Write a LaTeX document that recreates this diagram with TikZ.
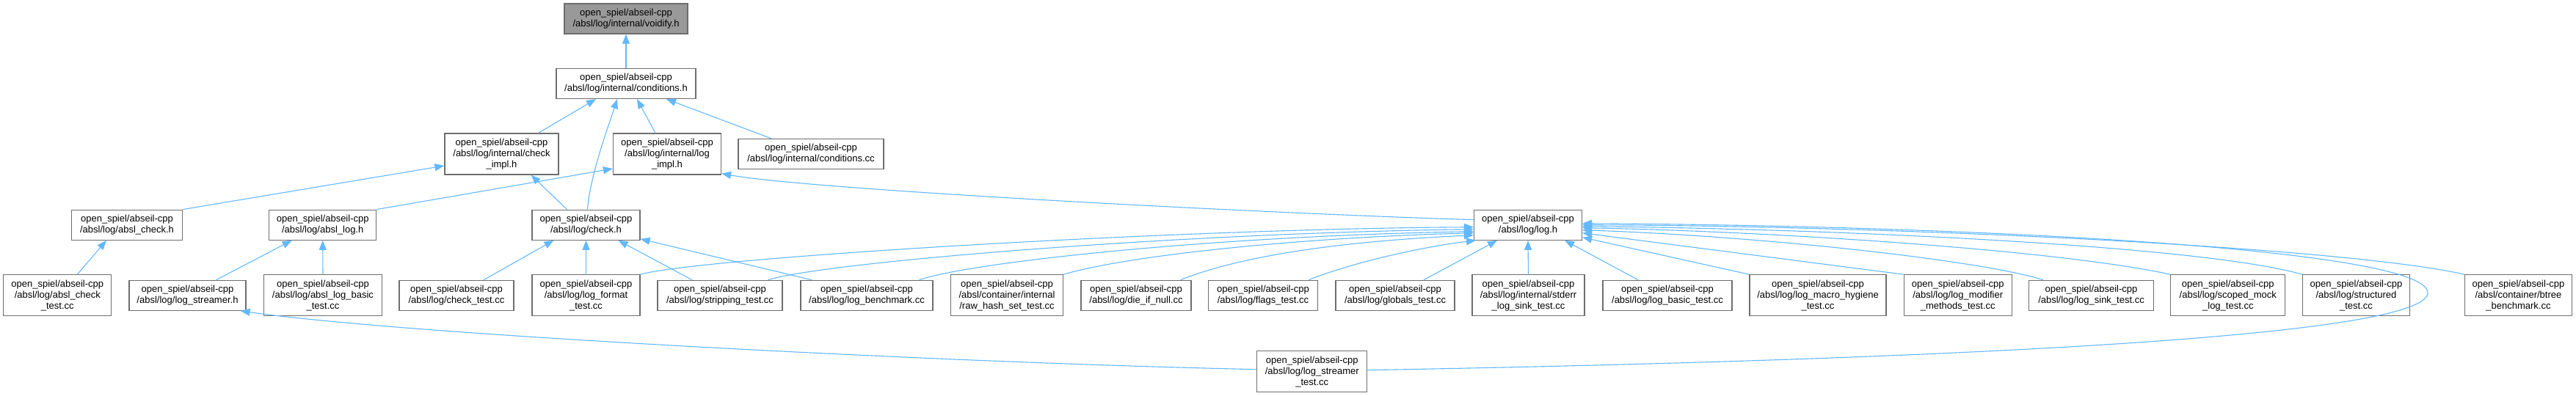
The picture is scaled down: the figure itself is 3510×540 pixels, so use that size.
\documentclass[tikz,border=0pt]{standalone}
\usepackage{fontspec}
\setmainfont{Liberation Sans}
\usetikzlibrary{arrows.meta}
\definecolor{edgeblue}{HTML}{63B8FF}
\definecolor{boxline}{HTML}{6E6E6E}
\definecolor{rootfill}{HTML}{999999}
\begin{document}
\begin{tikzpicture}[x=1pt,y=-1pt,
  box/.style={draw=boxline, line width=1.2pt, fill=white, align=center,
    inner xsep=3pt, inner ysep=0pt, font=\fontsize{13}{15}\selectfont,
    minimum height=41pt},
  box3/.style={box, minimum height=56pt},
  dep/.style={draw=edgeblue, line width=1.1pt, -{Triangle[length=13pt,width=10pt]}}]
\useasboundingbox (0,0) rectangle (3510,540);
% row 0-2
\node[box, fill=rootfill, minimum width=168pt] (voidify) at (853,25.5) {open\_spiel/abseil-cpp\\/absl/log/internal/voidify.h};
\node[box, minimum width=190pt] (condh) at (853,114) {open\_spiel/abseil-cpp\\/absl/log/internal/conditions.h};
\node[box3, minimum width=155pt] (cimpl) at (683.5,210) {open\_spiel/abseil-cpp\\/absl/log/internal/check\\\_impl.h};
\node[box3, minimum width=147pt] (limpl) at (909,210) {open\_spiel/abseil-cpp\\/absl/log/internal/log\\\_impl.h};
\node[box, minimum width=198pt] (condcc) at (1105,210) {open\_spiel/abseil-cpp\\/absl/log/internal/conditions.cc};
% row 3
\node[box, minimum width=151pt] (acheck) at (173,306.7) {open\_spiel/abseil-cpp\\/absl/log/absl\_check.h};
\node[box, minimum width=146pt] (alog) at (439.7,306.7) {open\_spiel/abseil-cpp\\/absl/log/absl\_log.h};
\node[box, minimum width=147pt] (checkh) at (798.5,306.7) {open\_spiel/abseil-cpp\\/absl/log/check.h};
\node[box, minimum width=147pt] (logh) at (2082,306.7) {open\_spiel/abseil-cpp\\/absl/log/log.h};
% row 4
\node[box3, minimum width=147pt] (acheckt) at (78.3,402.8) {open\_spiel/abseil-cpp\\/absl/log/absl\_check\\\_test.cc};
\node[box, minimum width=159pt] (lsh) at (255.5,402.8) {open\_spiel/abseil-cpp\\/absl/log/log\_streamer.h};
\node[box3, minimum width=161pt] (alogbt) at (440,402.8) {open\_spiel/abseil-cpp\\/absl/log/absl\_log\_basic\\\_test.cc};
\node[box, minimum width=156pt] (checkt) at (622,402.8) {open\_spiel/abseil-cpp\\/absl/log/check\_test.cc};
\node[box3, minimum width=147pt] (lfmt) at (798.5,402.8) {open\_spiel/abseil-cpp\\/absl/log/log\_format\\\_test.cc};
\node[box, minimum width=170pt] (strip) at (981,402.8) {open\_spiel/abseil-cpp\\/absl/log/stripping\_test.cc};
\node[box, minimum width=180pt] (bench) at (1181,402.8) {open\_spiel/abseil-cpp\\/absl/log/log\_benchmark.cc};
\node[box3, minimum width=153pt] (rawhash) at (1372,402.8) {open\_spiel/abseil-cpp\\/absl/container/internal\\/raw\_hash\_set\_test.cc};
\node[box, minimum width=150pt] (die) at (1548,402.8) {open\_spiel/abseil-cpp\\/absl/log/die\_if\_null.cc};
\node[box, minimum width=149pt] (flags) at (1721,402.8) {open\_spiel/abseil-cpp\\/absl/log/flags\_test.cc};
\node[box, minimum width=162pt] (globals) at (1901,402.8) {open\_spiel/abseil-cpp\\/absl/log/globals\_test.cc};
\node[box3, minimum width=153pt] (stderr) at (2082.5,402.8) {open\_spiel/abseil-cpp\\/absl/log/internal/stderr\\\_log\_sink\_test.cc};
\node[box, minimum width=176pt] (logbasic) at (2272,402.8) {open\_spiel/abseil-cpp\\/absl/log/log\_basic\_test.cc};
\node[box3, minimum width=186pt] (hygiene) at (2477,402.8) {open\_spiel/abseil-cpp\\/absl/log/log\_macro\_hygiene\\\_test.cc};
\node[box3, minimum width=147pt] (modifier) at (2667.7,402.8) {open\_spiel/abseil-cpp\\/absl/log/log\_modifier\\\_methods\_test.cc};
\node[box, minimum width=170pt] (sink) at (2849.5,402.8) {open\_spiel/abseil-cpp\\/absl/log/log\_sink\_test.cc};
\node[box3, minimum width=156pt] (scoped) at (3035.8,402.8) {open\_spiel/abseil-cpp\\/absl/log/scoped\_mock\\\_log\_test.cc};
\node[box3, minimum width=146pt] (structured) at (3210.5,402.8) {open\_spiel/abseil-cpp\\/absl/log/structured\\\_test.cc};
\node[box3, minimum width=146pt] (btree) at (3431.4,402.8) {open\_spiel/abseil-cpp\\/absl/container/btree\\\_benchmark.cc};
% row 5
\node[box3, minimum width=150pt] (lst) at (1787.7,506.7) {open\_spiel/abseil-cpp\\/absl/log/log\_streamer\\\_test.cc};
\coordinate (bend) at (3308,400);
% edges
\draw[dep] (condh.north) -- (voidify.south);
\draw[dep] ([xshift=50pt]cimpl.north) -- ([xshift=-41pt]condh.south);
\draw[dep] ([xshift=2pt]checkh.north) .. controls (804,240) and (828,175) .. ([xshift=-12pt]condh.south);
\draw[dep] ([xshift=-16pt]limpl.north) -- ([xshift=15pt]condh.south);
\draw[dep] ([xshift=-54pt]condcc.north) -- ([xshift=55pt]condh.south);
\draw[dep] (acheck.north east) -- ([yshift=-16pt]cimpl.west);
\draw[dep] ([xshift=-26pt]checkh.north) -- ([xshift=40pt]cimpl.south);
\draw[dep] (alog.north east) -- ([yshift=-20pt]limpl.west);
\draw[dep] ([yshift=7pt]logh.west) .. controls (1700,290) and (1100,258) .. ([yshift=2pt]limpl.south east);
\draw[dep] ([xshift=27pt]acheckt.north) -- ([xshift=-28pt]acheck.south);
\draw[dep] ([xshift=39pt]lsh.north) -- ([xshift=-42pt]alog.south);
\draw[dep] (alogbt.north) -- (alog.south);
\draw[dep] ([yshift=3pt]lst.west) .. controls (1300,495) and (560,457) .. ([xshift=-8pt]lsh.south east);
\draw[dep] ([xshift=37pt]checkt.north) -- ([xshift=-44pt]checkh.south);
\draw[dep] (lfmt.north) -- (checkh.south);
\draw[dep] ([xshift=-38pt]strip.north) -- ([xshift=44pt]checkh.south);
\draw[dep] ([xshift=-75pt]bench.north) -- ([yshift=2pt]checkh.south east);
\draw[dep] (lfmt.north east) .. controls (950,352) and (1600,312) .. ([yshift=-3pt]logh.west);
\draw[dep] ([xshift=-20pt]strip.north east) .. controls (1120,358) and (1600,318) .. ([yshift=-6pt]logh.west);
\draw[dep] ([xshift=-19pt]bench.north east) .. controls (1320,358) and (1650,322) .. ([yshift=-9pt]logh.west);
\draw[dep] (rawhash.north east) .. controls (1550,345) and (1800,323) .. ([yshift=-11pt]logh.west);
\draw[dep] ([xshift=-15pt]die.north east) .. controls (1700,345) and (1850,328) .. ([yshift=-14pt]logh.west);
\draw[dep] ([xshift=-13pt]flags.north east) .. controls (1850,355) and (1950,335) .. ([xshift=3pt]logh.south west);
\draw[dep] ([xshift=39pt]globals.north) -- ([xshift=-42pt]logh.south);
\draw[dep] (stderr.north) -- (logh.south);
\draw[dep] ([xshift=-40pt]logbasic.north) -- ([xshift=50pt]logh.south);
\draw[dep] (hygiene.north west) -- ([yshift=-17pt]logh.east);
\draw[dep] (modifier.north west) -- ([yshift=-11pt]logh.east);
\draw[dep] ([xshift=20pt]sink.north west) .. controls (2700,355) and (2400,322) .. ([yshift=-7pt]logh.east);
\draw[dep] (scoped.north west) .. controls (2800,340) and (2400,315) .. ([yshift=-4pt]logh.east);
\draw[dep] (structured.north west) .. controls (3000,335) and (2500,312) .. ([yshift=-2pt]logh.east);
\draw[dep] (btree.north west) .. controls (3200,338) and (2600,308) .. (logh.east);
\draw[dep] ([yshift=2pt]lst.east) .. controls (2400,495) and (3300,470) .. (bend) .. controls (3312,340) and (2700,308) .. ([yshift=2pt]logh.east);
\end{tikzpicture}
\end{document}
